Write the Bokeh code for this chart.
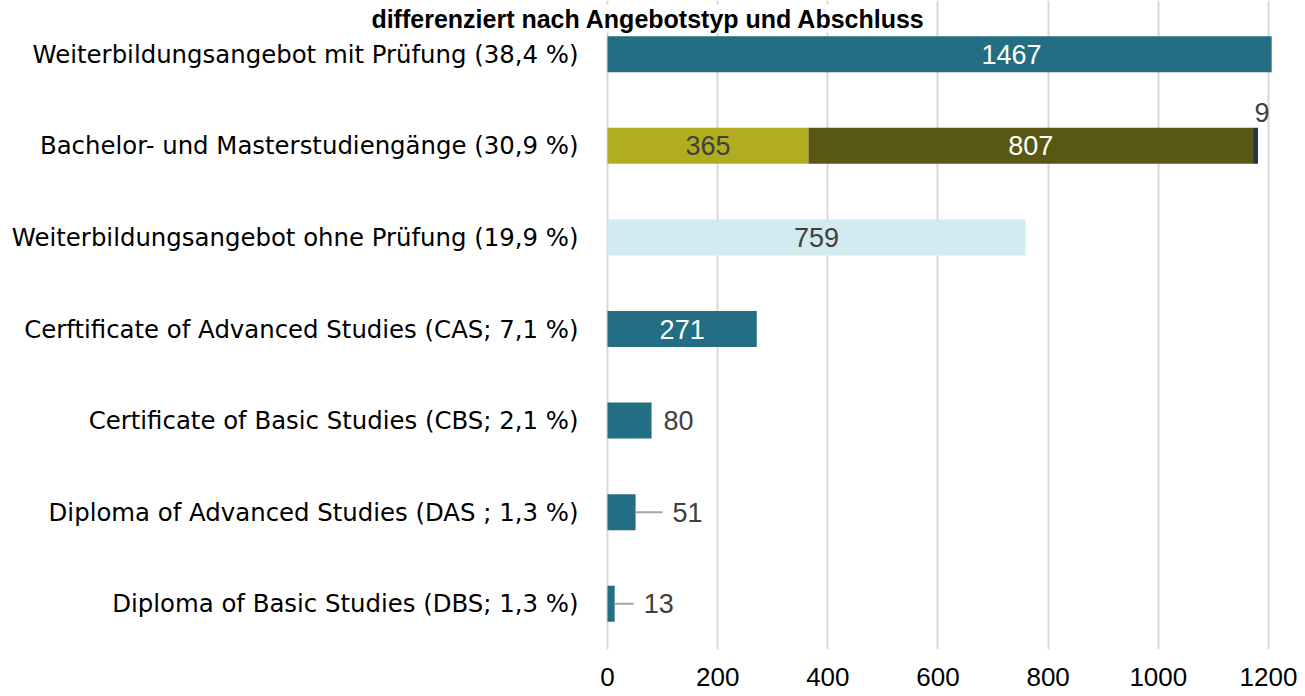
from bokeh.plotting import figure
from bokeh.models import ColumnDataSource, Range1d, FixedTicker, Label
from bokeh.embed import file_html
from bokeh.resources import INLINE
from bokeh.core.properties import value

# ---------------- data ----------------
categories = [
    "Weiterbildungsangebot mit Prüfung (38,4 %)",
    "Bachelor- und Masterstudiengänge (30,9 %)",
    "Weiterbildungsangebot ohne Prüfung (19,9 %)",
    "Cerftificate of Advanced Studies (CAS; 7,1 %)",
    "Certificate of Basic Studies (CBS; 2,1 %)",
    "Diploma of Advanced Studies (DAS ; 1,3 %)",
    "Diploma of Basic Studies (DBS; 1,3 %)",
]
seg1 = [1467, 365, 759, 271, 80, 51, 13]   # main bar / Bachelor part
seg2 = [0, 807, 0, 0, 0, 0, 0]            # Master part
seg3 = [0, 9, 0, 0, 0, 0, 0]              # other part
x_ticks = [0, 200, 400, 600, 800, 1000, 1200]
title_text = "differenziert nach Angebotstyp und Abschluss"

# ---------------- style ----------------
TEAL = "#236E82"
OLIVE_L = "#B2AD1E"
OLIVE_D = "#585812"
NAVY = "#2E3340"
LIGHTBLUE = "#D2EBF1"
LABEL_DARK = "#404040"
seg1_colors = [TEAL, OLIVE_L, LIGHTBLUE, TEAL, TEAL, TEAL, TEAL]
seg1_label_colors = ["white", LABEL_DARK, LABEL_DARK, "white", LABEL_DARK, LABEL_DARK, LABEL_DARK]
seg1_inside = [True, True, True, True, False, False, False]
outside_gap_px = [0, 0, 0, 0, 12, 37, 29]
leader_px = [0, 0, 0, 0, 0, 27, 19]

W, H = 1305, 696
ZERO_PX = 607          # x pixel of value 0
RIGHT, BOTTOM = 34, 47
BAND_TOP_PX = 8        # top of first category band
X_MAX = 1205.5
SCALE = (W - RIGHT - ZERO_PX) / X_MAX  # px per unit
n = len(categories)
SP = (H - BOTTOM - BAND_TOP_PX) / n      # px per category

ys = list(range(n))

p = figure(width=W, height=H,
           x_range=Range1d(-ZERO_PX / SCALE, X_MAX),
           y_range=Range1d(n - 0.5, -0.5 - BAND_TOP_PX / SP),
           output_backend="svg", toolbar_location=None,
           min_border_left=0, min_border_right=RIGHT,
           min_border_top=0, min_border_bottom=BOTTOM)
p.outline_line_color = None
p.background_fill_color = "white"
p.border_fill_color = "white"
p.yaxis.visible = False
p.ygrid.visible = False

s2_left = seg1
s2_right = [a + b for a, b in zip(seg1, seg2)]
s3_right = [a + b for a, b in zip(s2_right, seg3)]

src = ColumnDataSource(dict(y=ys, s1=seg1, s2l=s2_left, s2r=s2_right, s3r=s3_right,
                            color=seg1_colors))
BAR_H = 36 / SP
p.hbar(y="y", left=0, right="s1", height=BAR_H, fill_color="color", line_color=None, source=src)
p.hbar(y="y", left="s2l", right="s2r", height=BAR_H, fill_color=OLIVE_D, line_color=None, source=src)
p.hbar(y="y", left="s2r", right="s3r", height=BAR_H, fill_color=NAVY, line_color=None, source=src)

FONT = value("Liberation Sans")
LBL_SIZE = "27px"

# category labels (left of the zero line)
p.text(x=[0] * n, y=ys, text=categories, x_offset=-29, text_align="right",
       text_baseline="middle", text_color="black",
       text_font=value("DejaVu Sans"), text_font_size="24.4px")

# inside labels for first segment
in_idx = [i for i in ys if seg1_inside[i]]
p.text(x=[seg1[i] / 2 for i in in_idx], y=in_idx, text=[str(seg1[i]) for i in in_idx],
       text_color=[seg1_label_colors[i] for i in in_idx], text_align="center",
       text_baseline="middle", text_font=FONT, text_font_size=LBL_SIZE)

# outside labels with leader lines
out_idx = [i for i in ys if not seg1_inside[i]]
p.text(x=[seg1[i] for i in out_idx], y=out_idx, text=[str(seg1[i]) for i in out_idx],
       x_offset=[outside_gap_px[i] for i in out_idx],
       text_color=[seg1_label_colors[i] for i in out_idx], text_align="left",
       text_baseline="middle", text_font=FONT, text_font_size=LBL_SIZE)
ld_idx = [i for i in ys if leader_px[i] > 0]
p.segment(x0=[seg1[i] for i in ld_idx], y0=ld_idx,
          x1=[seg1[i] + leader_px[i] / SCALE for i in ld_idx], y1=ld_idx,
          line_color="#A6A6A6", line_width=2)

# second segment labels (centered)
s2_idx = [i for i in ys if seg2[i] > 0]
p.text(x=[(s2_left[i] + s2_right[i]) / 2 for i in s2_idx], y=s2_idx,
       text=[str(seg2[i]) for i in s2_idx], text_color="white", text_align="center",
       text_baseline="middle", text_font=FONT, text_font_size=LBL_SIZE)

# third segment labels (above bar end)
s3_idx = [i for i in ys if seg3[i] > 0]
p.text(x=[s3_right[i] for i in s3_idx], y=s3_idx, text=[str(seg3[i]) for i in s3_idx],
       x_offset=4, y_offset=-33, text_color=LABEL_DARK, text_align="center",
       text_baseline="middle", text_font=FONT, text_font_size=LBL_SIZE)

# x axis
p.xaxis.ticker = FixedTicker(ticks=x_ticks)
p.xaxis.axis_line_color = None
p.xaxis.major_tick_line_color = None
p.xaxis.minor_tick_line_color = None
p.xaxis.major_tick_out = 0
p.xaxis.minor_tick_out = 0
p.xaxis.major_label_standoff = 18
p.xaxis.major_label_text_font = "Liberation Sans"
p.xaxis.major_label_text_font_size = "26px"
p.xaxis.major_label_text_color = "black"

p.xgrid.ticker = FixedTicker(ticks=x_ticks)
p.xgrid.grid_line_color = "#D9D9D9"
p.xgrid.grid_line_width = 2

# title (only line of the original heading that is shown)
title = Label(x=41 / SCALE, y=-0.5 - BAND_TOP_PX / SP + 32 / SP, text=title_text,
              text_align="center", text_baseline="bottom",
              text_font="Liberation Sans", text_font_style="bold",
              text_font_size="25px", text_color="black",
              background_fill_color="white", background_fill_alpha=1.0)
p.add_layout(title)

open("out.html", "w").write(file_html(p, INLINE))
